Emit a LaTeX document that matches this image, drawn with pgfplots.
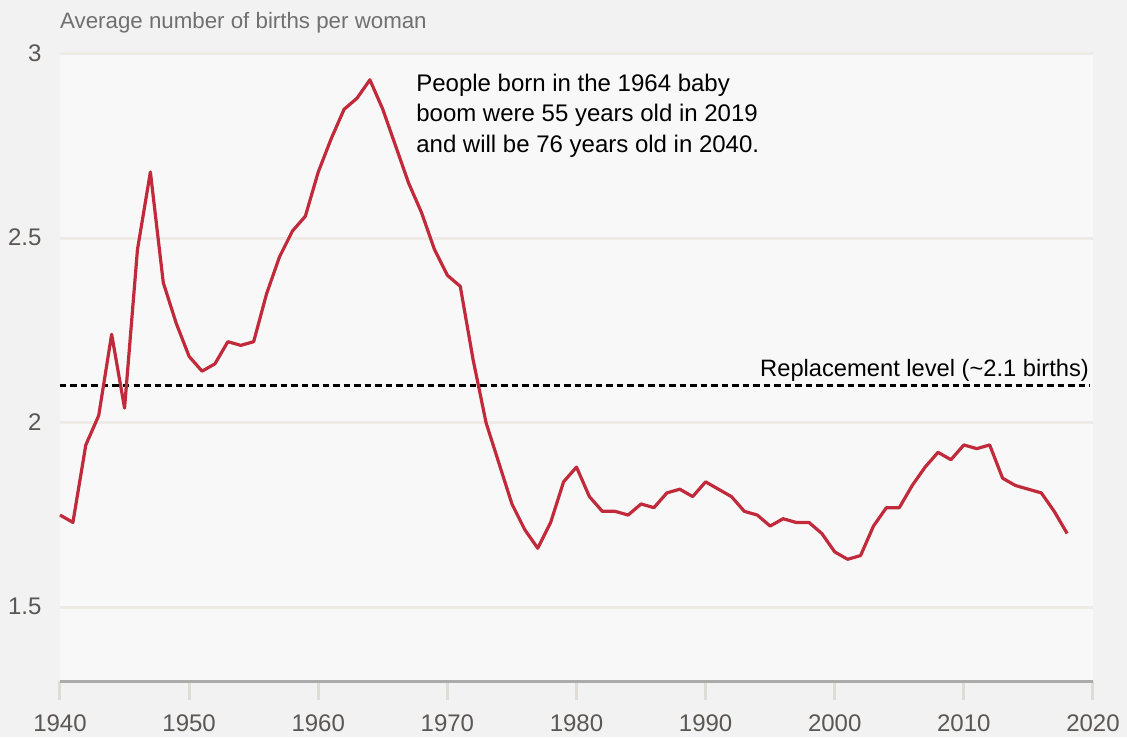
\documentclass[border=0pt]{standalone}
\usepackage{fontspec}
\setmainfont{Liberation Sans}
\usepackage{pgfplots}
\pgfplotsset{compat=1.18}
\definecolor{bgouter}{HTML}{F2F2F2}
\definecolor{bgplot}{HTML}{F8F8F8}
\definecolor{gridc}{HTML}{ECEBE6}
\definecolor{tickc}{HTML}{DEDCD5}
\definecolor{axisc}{HTML}{ABABAB}
\definecolor{linered}{HTML}{C12A3B}
\definecolor{ticktext}{HTML}{5A5754}
\definecolor{titletext}{HTML}{707070}
\begin{document}
\begin{tikzpicture}[x=1pt,y=1pt]
\fill[bgouter] (-60,-56) rectangle (1067,681);
\begin{axis}[
  at={(0,0)}, anchor=south west,
  scale only axis, width=1033pt, height=627pt,
  xmin=1940, xmax=2020, ymin=1.3, ymax=3,
  axis background/.style={fill=bgplot},
  axis line style={draw=none},
  xtick={1940,1950,...,2020},
  ytick={1.5,2,2.5,3},
  yticklabels={1.5,2,2.5,3},
  xtick pos=bottom, ytick pos=left,
  xticklabel style={/pgf/number format/1000 sep={}},
  tick align=outside,
  major tick length=19pt,
  xtick style={draw=tickc, line width=3pt},
  ytick style={draw=none},
  ymajorgrids,
  grid style={draw=gridc, line width=3pt},
  /pgf/number format/assume math mode=true,
  ticklabel style={font=\fontsize{24}{28}\selectfont, text=ticktext},
  xticklabel style={yshift=-11pt},
  yticklabel style={xshift=4pt, yshift=1pt},
  clip=false,
]
\draw[axisc, line width=3pt] (axis cs:1940,1.3) -- (axis cs:2020,1.3);
\addplot[black, line width=3pt, dash pattern=on 6.5pt off 4pt] coordinates {(1940,2.1) (2019.8,2.1)};
\addplot[linered, line width=3.2pt, line join=round] coordinates {
(1940,1.75) (1941,1.73) (1942,1.94) (1943,2.02) (1944,2.24) (1945,2.04)
(1946,2.47) (1947,2.68) (1948,2.38) (1949,2.27) (1950,2.18) (1951,2.14)
(1952,2.16) (1953,2.22) (1954,2.21) (1955,2.22) (1956,2.35) (1957,2.45)
(1958,2.52) (1959,2.56) (1960,2.68) (1961,2.77) (1962,2.85) (1963,2.88)
(1964,2.93) (1965,2.85) (1966,2.75) (1967,2.65) (1968,2.57) (1969,2.47)
(1970,2.40) (1971,2.37) (1972,2.17) (1973,2.00) (1974,1.89) (1975,1.78)
(1976,1.71) (1977,1.66) (1978,1.73) (1979,1.84) (1980,1.88) (1981,1.80)
(1982,1.76) (1983,1.76) (1984,1.75) (1985,1.78) (1986,1.77) (1987,1.81)
(1988,1.82) (1989,1.80) (1990,1.84) (1991,1.82) (1992,1.80) (1993,1.76)
(1994,1.75) (1995,1.72) (1996,1.74) (1997,1.73) (1998,1.73) (1999,1.70)
(2000,1.65) (2001,1.63) (2002,1.64) (2003,1.72) (2004,1.77) (2005,1.77)
(2006,1.83) (2007,1.88) (2008,1.92) (2009,1.90) (2010,1.94) (2011,1.93)
(2012,1.94) (2013,1.85) (2014,1.83) (2015,1.82) (2016,1.81) (2017,1.76)
(2018,1.70)
};
\node[anchor=base east, inner sep=0pt, font=\fontsize{23.7}{28}\selectfont] at (axis cs:2019.7,2.1255) {Replacement level (\textasciitilde 2.1 births)};
\node[anchor=base west, inner sep=0pt, font=\fontsize{24}{30}\selectfont] at (axis cs:1967.58,2.897) {People born in the 1964 baby};
\node[anchor=base west, inner sep=0pt, font=\fontsize{24}{30}\selectfont] at (axis cs:1967.58,2.816) {boom were 55 years old in 2019};
\node[anchor=base west, inner sep=0pt, font=\fontsize{24}{30}\selectfont] at (axis cs:1967.58,2.734) {and will be 76 years old in 2040.};
\end{axis}
\node[anchor=base west, inner sep=0pt, font=\fontsize{22.3}{26}\selectfont, text=titletext] at (0,652) {Average number of births per woman};
\end{tikzpicture}
\end{document}
